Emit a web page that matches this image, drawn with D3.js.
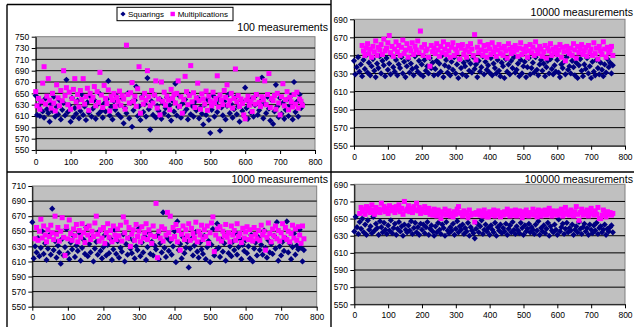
<!DOCTYPE html>
<html>
<head>
<meta charset="utf-8">
<script src="https://cdn.jsdelivr.net/npm/d3@7"></script>
<style>
  html, body { margin: 0; padding: 0; background: #fff; }
  svg { display: block; font-family: Arial, "Liberation Sans", sans-serif; }
</style>
</head>
<body>
<svg id="chart" width="634" height="327"></svg>
<script>
const seriesNames = ['Squarings', 'Multiplications'];
const xTicks = [0, 100, 200, 300, 400, 500, 600, 700, 800];
const yTicks750 = [550, 570, 590, 610, 630, 650, 670, 690, 710, 730, 750];
const yTicks710 = [550, 570, 590, 610, 630, 650, 670, 690, 710];
const yTicks690 = [550, 570, 590, 610, 630, 650, 670, 690];
const sampleStep = 4; // one value read every 4 positions along the x axis

// 100 measurements
const sq100 = [
  646, 612, 628, 610, 635, 618, 607, 641, 622, 615,
  600, 631, 619, 644, 609, 626, 613, 638, 604, 621,
  633, 611, 674, 617, 629, 600, 642, 608, 624, 614,
  637, 606, 619, 648, 612, 627, 603, 634, 616, 645,
  609, 623, 638, 605, 630, 614, 649, 619, 607, 632,
  618, 640, 672, 611, 626, 604, 636, 621, 645, 613,
  629, 608, 641, 597, 624, 615, 650, 606, 633, 591,
  620, 638, 662, 610, 627, 603, 644, 617, 631, 609,
  677, 622, 586, 636, 612, 647, 607, 628, 619, 640,
  605, 633, 615, 624, 643, 610, 629, 602, 637, 618,
  667, 611, 626, 645, 607, 632, 616, 639, 622, 604,
  648, 613, 628, 609, 635, 620, 642, 606, 625, 614,
  595, 630, 612, 639, 603, 580, 621, 646, 609, 633,
  617, 640, 584, 625, 611, 636, 604, 628, 648, 615,
  631, 607, 622, 643, 613, 627, 600, 638, 619, 610,
  660, 624, 605, 634, 616, 641, 609, 629, 647, 612,
  620, 636, 678, 606, 631, 615, 644, 623, 602, 638,
  596, 618, 665, 627, 608, 642, 614, 633, 605, 621,
  639, 610, 628, 646, 604, 670, 617, 635, 609, 648,
  624, 631
];
const mu100 = [
  653, 628, 641, 622, 636, 668, 697, 631, 645, 676,
  638, 624, 650, 633, 619, 665, 642, 628, 655, 637,
  690, 646, 660, 630, 652, 622, 641, 657, 676, 635,
  648, 626, 655, 639, 676, 631, 644, 659, 620, 650,
  637, 643, 662, 628, 653, 634, 687, 647, 625, 664,
  641, 632, 656, 619, 645, 638, 650, 627, 643, 636,
  654, 629, 646, 640, 622, 735, 648, 633, 651, 669,
  636, 645, 627, 658, 697, 615, 642, 631, 650, 638,
  690, 644, 628, 655, 633, 647, 672, 624, 640, 612,
  670, 636, 652, 629, 645, 638, 621, 657, 641, 648,
  633, 650, 672, 627, 644, 615, 639, 680, 653, 630,
  646, 699, 635, 651, 625, 642, 668, 637, 622, 649,
  640, 631, 654, 620, 645, 636, 628, 652, 633, 641,
  681, 626, 647, 638, 630, 655, 643, 665, 629, 637,
  650, 624, 641, 693, 635, 646, 627, 640, 632, 612,
  605, 638, 645, 629, 636, 618, 642, 631, 648, 675,
  634, 627, 644, 639, 672, 630, 648, 685, 625, 641,
  637, 646, 622, 650, 633, 612, 644, 667, 628, 639,
  653, 621, 643, 635, 626, 648, 631, 652, 624, 640,
  636, 629
];

// 10000 measurements
const sq10k = [
  644, 629, 637, 648, 632, 640, 627, 645, 635, 650,
  631, 642, 628, 638, 646, 633, 626, 641, 636, 649,
  630, 644, 639, 627, 647, 634, 641, 629, 650, 637,
  632, 645, 628, 640, 636, 648, 630, 643, 626, 638,
  646, 631, 641, 635, 628, 649, 637, 632, 644, 629,
  640, 627, 645, 633, 638, 630, 647, 636, 642, 628,
  635, 644, 629, 641, 632, 650, 626, 639, 645, 631,
  637, 628, 643, 634, 648, 630, 640, 625, 646, 636,
  629, 642, 638, 627, 645, 633, 641, 631, 648, 635,
  640, 626, 644, 632, 637, 649, 629, 643, 634, 639,
  631, 647, 628, 641, 636, 630, 645, 633, 627, 642,
  638, 625, 646, 632, 640, 629, 644, 636, 648, 631,
  634, 641, 627, 645, 630, 638, 643, 626, 637, 647,
  629, 636, 642, 631, 648, 634, 628, 640, 645, 633,
  641, 627, 637, 644, 630, 646, 635, 629, 639, 632,
  645, 631, 626, 640, 636, 643, 629, 648, 634, 638,
  630, 644, 637, 628, 642, 625, 639, 646, 633, 627,
  640, 635, 647, 630, 638, 625, 643, 632, 628, 645,
  636, 629, 642, 634, 627, 640, 631, 646, 637, 642,
  630, 639
];
const mu10k = [
  null, null, null, null, null, null, 661, 655, 650, 658,
  663, 652, 657, 648, 660, 654, 666, 650, 659, 656,
  662, 651, 668, 655, 658, 664, 672, 653, 660, 649,
  657, 665, 654, 661, 650, 659, 667, 652, 656, 663,
  648, 658, 655, 664, 651, 660, 656, 666, 653, 677,
  659, 650, 662, 655, 657, 648, 638, 661, 654, 658,
  652, 663, 656, 649, 660, 653, 665, 657, 651, 662,
  655, 648, 659, 664, 650, 657, 653, 661, 646, 658,
  662, 651, 656, 648, 660, 654, 663, 657, 650, 673,
  645, 659, 653, 665, 656, 650, 661, 655, 648, 662,
  657, 651, 664, 654, 659, 649, 656, 662, 652, 658,
  650, 660, 655, 647, 663, 657, 652, 659, 654, 661,
  656, 649, 658, 664, 651, 657, 654, 660, 648, 655,
  662, 653, 659, 650, 665, 656, 652, 660, 657, 649,
  654, 661, 647, 658, 655, 663, 650, 657, 653, 659,
  651, 656, 662, 648, 659, 654, 644, 660, 655, 652,
  658, 650, 663, 656, 647, 660, 653, 657, 662, 651,
  655, 659, 649, 661, 654, 657, 650, 664, 652, 658,
  646, 660, 655, 651, 665, 657, 648, 659, 653, 656,
  660, 650
];

// 1000 measurements
const sq1k = [
  662, 614, 630, 622, 641, 617, 628, 650, 620, 634,
  612, 627, 645, 619, 680, 625, 637, 615, 631, 622,
  607, 640, 618, 629, 653, 621, 613, 635, 626, 644,
  616, 631, 624, 648, 611, 628, 639, 620, 655, 617,
  633, 622, 642, 610, 627, 636, 619, 650, 624, 614,
  629, 645, 618, 632, 621, 640, 612, 626, 652, 620,
  637, 615, 628, 623, 646, 610, 633, 619, 641, 627,
  621, 638, 614, 630, 625, 654, 617, 635, 622, 643,
  612, 629, 648, 620, 636, 618, 631, 626, 645, 613,
  634, 622, 675, 628, 616, 641, 624, 637, 619, 630,
  650, 609, 663, 625, 633, 614, 642, 621, 628, 636,
  602, 627, 640, 618, 631, 649, 623, 615, 635, 626,
  620, 644, 613, 629, 637, 609, 632, 653, 618, 625,
  660, 628, 616, 639, 623, 634, 611, 646, 621, 630,
  617, 636, 625, 648, 619, 629, 640, 613, 632, 624,
  638, 621, 630, 614, 645, 610, 627, 635, 618, 642,
  625, 632, 619, 651, 628, 615, 638, 622, 633, 620,
  644, 627, 662, 611, 630, 618, 636, 624, 641, 663,
  622, 634, 613, 629, 647, 619, 631, 626, 652, 628,
  610, 625
];
const mu1k = [
  null, null, 640, 655, 638, 650, 666, 641, 657, 645,
  636, 652, 643, 658, 648, 639, 670, 646, 655, 637,
  650, 668, 642, 618, 656, 640, 665, 647, 638, 653,
  644, 659, 636, 651, 642, 660, 648, 635, 654, 645,
  657, 639, 650, 643, 661, 670, 646, 637, 652, 641,
  655, 634, 648, 660, 642, 651, 636, 657, 645, 639,
  653, 644, 658, 637, 669, 648, 662, 641, 655, 630,
  646, 652, 638, 659, 643, 650, 636, 656, 641, 648,
  660, 639, 652, 645, 634, 657, 643, 687, 615, 650,
  641, 656, 637, 653, 645, 675, 648, 670, 640, 655,
  643, 659, 636, 651, 625, 646, 657, 639, 652, 644,
  660, 638, 654, 647, 641, 662, 636, 650, 645, 658,
  639, 652, 643, 657, 634, 648, 661, 669, 623, 645,
  653, 640, 656, 637, 650, 644, 659, 642, 648, 636,
  657, 645, 651, 638, 660, 643, 647, 635, 654, 641,
  649, 656, 639, 652, 643, 637, 655, 646, 640, 651,
  638, 658, 645, 650, 625, 642, 661, 647, 636, 653,
  644, 657, 640, 651, 637, 648, 660, 642, 655, 639,
  650, 636, 647, 658, 641, 653, 638, 656, 645, 634,
  657, 640
];

// 100000 measurements
const sq100k = [
  635, 652, 640, 632, 646, 638, 650, 634, 643, 631,
  648, 637, 641, 633, 652, 636, 644, 639, 631, 647,
  640, 634, 645, 637, 632, 642, 636, 648, 633, 639,
  644, 631, 638, 646, 635, 641, 630, 643, 637, 634,
  642, 636, 647, 632, 639, 645, 634, 640, 631, 644,
  637, 643, 633, 640, 646, 631, 638, 642, 635, 630,
  641, 634, 645, 637, 632, 643, 639, 630, 646, 636,
  633, 640, 636, 644, 631, 638, 647, 634, 641, 637,
  643, 632, 639, 635, 645, 630, 640, 636, 633, 627,
  638, 644, 634, 641, 648, 632, 637, 643, 635, 639,
  631, 642, 637, 634, 645, 630, 640, 636, 643, 633,
  639, 635, 644, 631, 638, 642, 634, 646, 637, 632,
  641, 636, 633, 645, 639, 631, 642, 635, 638, 644,
  634, 640, 637, 632, 643, 636, 647, 631, 639, 635,
  642, 633, 638, 645, 630, 641, 636, 634, 643, 637,
  631, 649, 635, 640, 644, 632, 638, 645, 634, 639,
  636, 643, 631, 637, 641, 634, 646, 638, 632, 640,
  644, 635, 639, 631, 643, 637, 633, 642, 636, 645,
  632, 639, 641, 634, 637, 643, 631, 638, 635, 640,
  642, 634
];
const mu100k = [
  null, null, null, null, 656, 663, 658, 661, 655, 664,
  659, 662, 657, 666, 660, 655, 663, 658, 661, 657,
  668, 660, 664, 658, 662, 656, 665, 659, 663, 661,
  657, 664, 660, 666, 658, 662, 655, 670, 659, 661,
  665, 658, 662, 657, 664, 660, 668, 659, 663, 656,
  661, 658, 664, 657, 660, 662, 655, 659, 654, 661,
  657, 653, 660, 656, 650, 658, 655, 661, 654, 657,
  659, 653, 656, 652, 658, 655, 661, 664, 657, 656,
  653, 659, 655, 657, 651, 660, 654, 656, 655, 646,
  657, 655, 659, 654, 658, 653, 660, 656, 652, 652,
  658, 654, 657, 660, 653, 656, 659, 655, 652, 657,
  654, 658, 655, 661, 656, 653, 659, 654, 657, 660,
  653, 656, 659, 655, 651, 658, 654, 660, 656, 653,
  657, 655, 661, 654, 658, 652, 660, 656, 653, 659,
  655, 660, 654, 657, 662, 656, 653, 659, 655, 658,
  654, 659, 656, 661, 653, 657, 663, 655, 658, 654,
  660, 656, 653, 658, 664, 655, 648, 657, 661, 654,
  658, 655, 660, 653, 657, 662, 656, 654, 659, 655,
  663, 650, 650, 654, 660, 656, 652, 658, 655, 657,
  654, 656
];

const panels = [
  { title: '100 measurements', sq: sq100, mu: mu100, yTicks: yTicks750,
    x0: 35.7, x1: 315, yTop: 36.7, yBot: 150, titleX: 328, titleY: 31.4, xPad: 5 },
  { title: '10000 measurements', sq: sq10k, mu: mu10k, yTicks: yTicks690,
    x0: 354, x1: 625, yTop: 19.3, yBot: 145.7, titleX: 633, titleY: 16.4, xPad: 4 },
  { title: '1000 measurements', sq: sq1k, mu: mu1k, yTicks: yTicks710,
    x0: 32.3, x1: 316.7, yTop: 186, yBot: 306.7, titleX: 328, titleY: 182.7, xPad: 3 },
  { title: '100000 measurements', sq: sq100k, mu: mu100k, yTicks: yTicks690,
    x0: 354.3, x1: 625, yTop: 184.3, yBot: 304.3, titleX: 633, titleY: 182.7, xPad: 4 }
];

const navy = '#000080';
const magenta = '#ff00ff';
const diamond = 'M0,-3.1L3.1,0L0,3.1L-3.1,0Z';
const sq = 5;

const svg = d3.select('#chart');
svg.append('rect').attr('width', 634).attr('height', 327).attr('fill', '#fff');

panels.forEach(p => {
  const x = d3.scaleLinear().domain([0, 800]).range([p.x0, p.x1]);
  const y = d3.scaleLinear().domain(d3.extent(p.yTicks)).range([p.yBot, p.yTop]);
  const g = svg.append('g');

  g.append('rect')
    .attr('x', p.x0).attr('y', p.yTop)
    .attr('width', p.x1 - p.x0).attr('height', p.yBot - p.yTop)
    .attr('fill', '#c0c0c0').attr('stroke', '#808080').attr('stroke-width', 1);

  g.append('g').selectAll('line')
    .data(p.yTicks.slice(1, -1))
    .join('line')
    .attr('x1', p.x0).attr('x2', p.x1)
    .attr('y1', d => y(d)).attr('y2', d => y(d))
    .attr('stroke', '#000').attr('stroke-width', 1);

  const yAxis = g.append('g')
    .attr('transform', `translate(${p.x0},0)`)
    .call(d3.axisLeft(y).tickValues(p.yTicks).tickSize(4).tickSizeOuter(0).tickPadding(2.4));
  const xAxis = g.append('g')
    .attr('transform', `translate(0,${p.yBot})`)
    .call(d3.axisBottom(x).tickValues(xTicks).tickSize(4).tickSizeOuter(0).tickPadding(p.xPad));
  [yAxis, xAxis].forEach(a => {
    a.attr('font-family', null).attr('font-size', null);
    a.selectAll('text').style('font-size', '8.5px').attr('fill', '#000');
    a.selectAll('line').attr('stroke', '#000');
    a.select('.domain').attr('stroke', '#000');
  });

  const sqPts = p.sq.map((v, i) => ({ x: i * sampleStep, v })).filter(d => d.v != null);
  const muPts = p.mu.map((v, i) => ({ x: i * sampleStep, v })).filter(d => d.v != null);

  g.append('g').selectAll('path')
    .data(sqPts)
    .join('path')
    .attr('d', diamond)
    .attr('transform', d => `translate(${x(d.x)},${y(d.v)})`)
    .attr('fill', navy);

  g.append('g').selectAll('rect')
    .data(muPts)
    .join('rect')
    .attr('x', d => x(d.x) - sq / 2).attr('y', d => y(d.v) - sq / 2)
    .attr('width', sq).attr('height', sq)
    .attr('fill', magenta);

  g.append('text')
    .attr('x', p.titleX).attr('y', p.titleY)
    .attr('text-anchor', 'end')
    .style('font-size', '10.6px')
    .text(p.title);
});

// legend (top-left chart)
const legend = svg.append('g');
legend.append('rect')
  .attr('x', 117).attr('y', 7.3).attr('width', 116).attr('height', 13.4)
  .attr('fill', '#fff').attr('stroke', '#000').attr('stroke-width', 1);
legend.append('path').attr('d', 'M0,-2.6L2.6,0L0,2.6L-2.6,0Z').attr('transform', 'translate(123,14)').attr('fill', navy);
legend.append('text').attr('x', 128).attr('y', 16.9).style('font-size', '8px').text(seriesNames[0]);
legend.append('rect').attr('x', 170.5).attr('y', 11.8).attr('width', 4.4).attr('height', 4.4).attr('fill', magenta);
legend.append('text').attr('x', 177.7).attr('y', 16.9).style('font-size', '8px').text(seriesNames[1]);

// chart frames
const frame = svg.append('g').attr('stroke', '#000').attr('stroke-width', 1.4);
frame.append('line').attr('x1', 7).attr('x2', 7).attr('y1', 4.5).attr('y2', 327);
frame.append('line').attr('x1', 7).attr('x2', 331).attr('y1', 4.5).attr('y2', 4.5);
frame.append('line').attr('x1', 331).attr('x2', 331).attr('y1', 0).attr('y2', 327);
frame.append('line').attr('x1', 7).attr('x2', 634).attr('y1', 172).attr('y2', 172);
</script>
</body>
</html>
